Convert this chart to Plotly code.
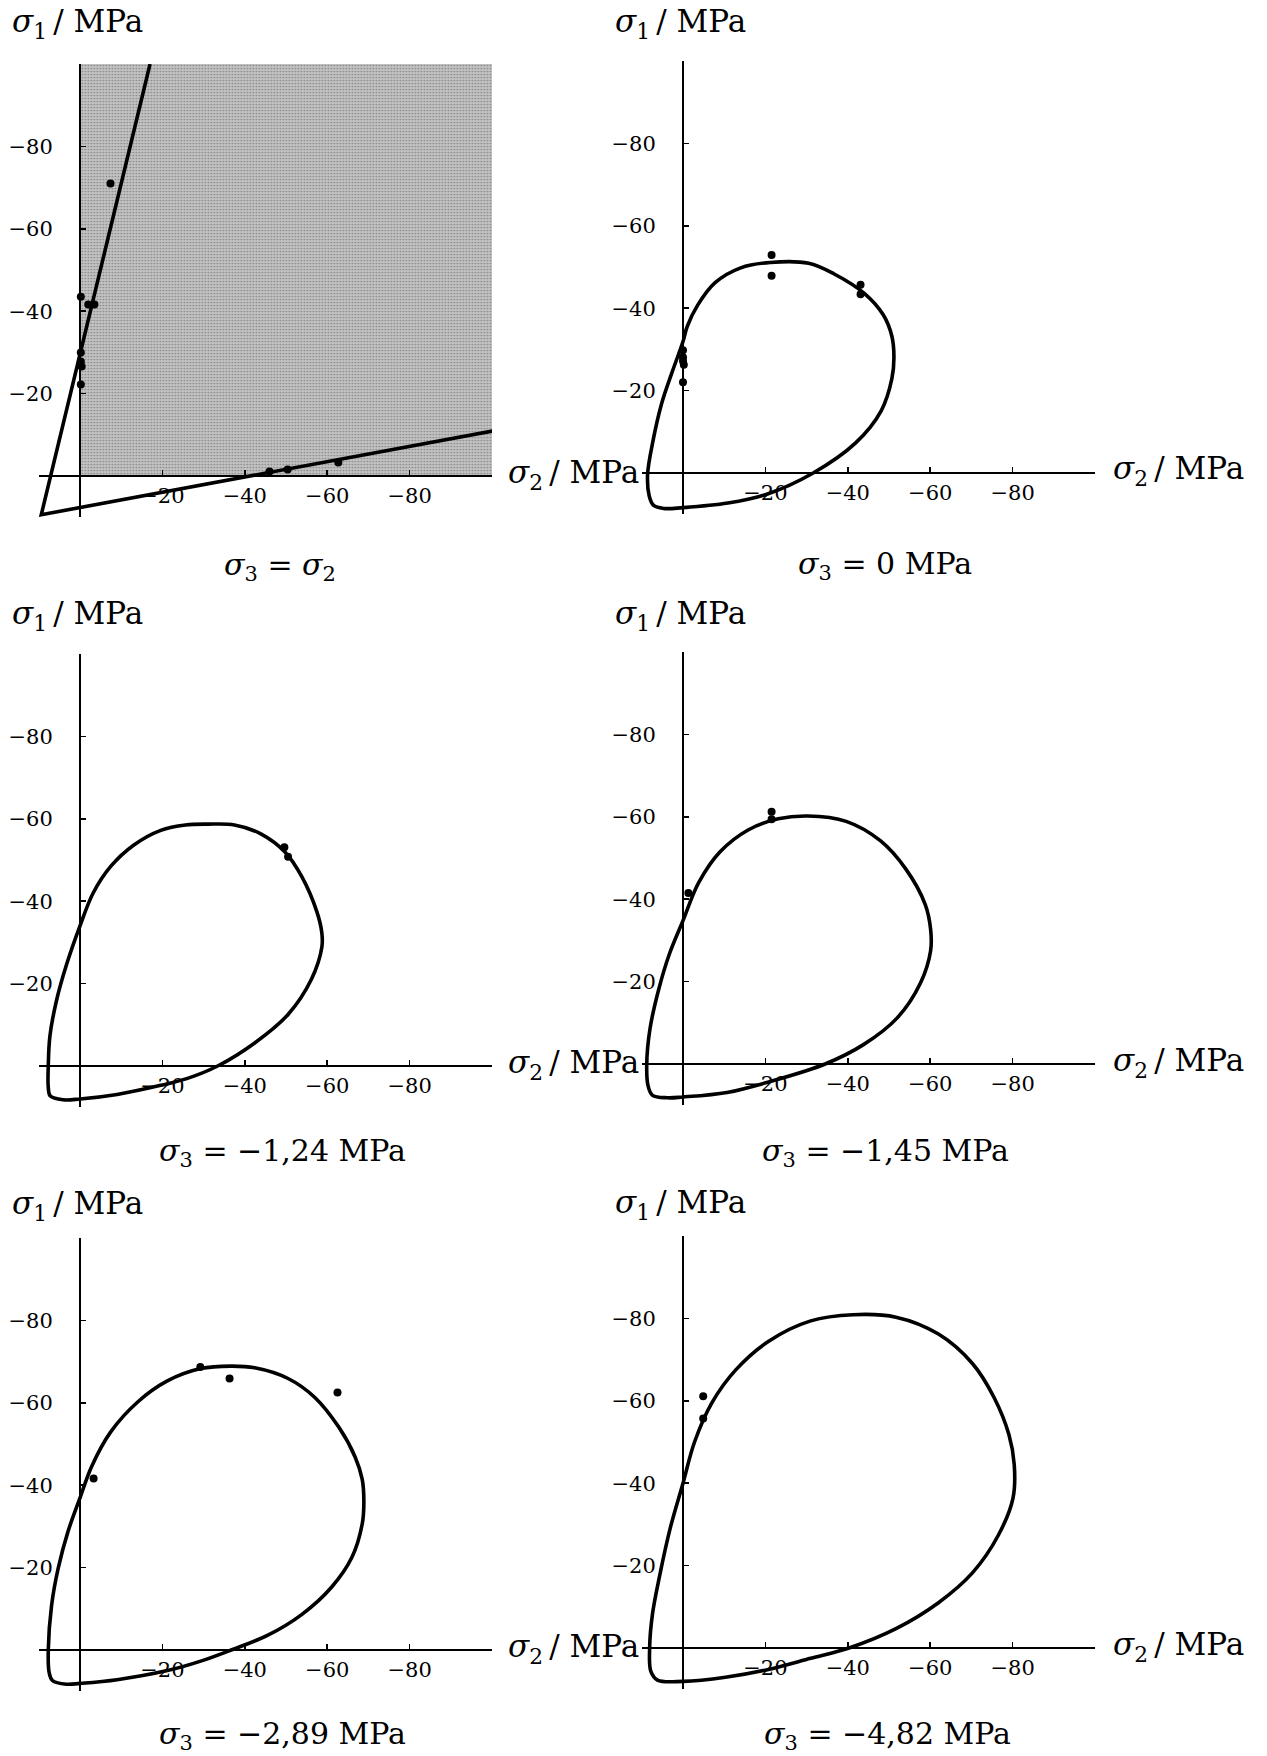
import plotly.graph_objects as go

W, H = 1267, 1756

# ---------------- data ----------------
tick_values = [-20, -40, -60, -80]
tick_labels = ["−20", "−40", "−60", "−80"]

subtitles = ["<i>σ</i><sub>3</sub> = <i>σ</i><sub>2</sub>",
             "<i>σ</i><sub>3</sub> = 0 MPa",
             "<i>σ</i><sub>3</sub> = −1,24 MPa",
             "<i>σ</i><sub>3</sub> = −1,45 MPa",
             "<i>σ</i><sub>3</sub> = −2,89 MPa",
             "<i>σ</i><sub>3</sub> = −4,82 MPa"]

# panel 1 : sigma3 = sigma2  (two straight failure lines meeting at a vertex)
p1_lines_s2 = [-17.0, 9.4, -100.5]
p1_lines_s1 = [-100.0, 9.4, -11.0]
p1_region_s2 = [0, -100, -100, 0, 0]
p1_region_s1 = [0, 0, -100, -100, 0]
p1_pts_s2 = [-7.4, -0.2, -2.0, -3.5, -0.2, -0.2, -0.4, -0.2, -46.0, -50.4, -62.7]
p1_pts_s1 = [-71.0, -43.5, -41.6, -41.6, -30.0, -27.8, -26.6, -22.2, -1.1, -1.6, -3.3]

# panel 2 : sigma3 = 0
p2_loop_s2 = [8.6, 8.2, 7.2, 4.7, 0, -10.9, -20.2, -31.6, -41.9, -48.1, -50.7, -51.2, -50.7,
              -48.6, -44.0, -36.7, -30.5, -21.2, -14.0, -7.8, -3.6, -1.0, 0, 2.6, 5.2, 7.2, 8.6]
p2_loop_s1 = [0.4, 5.6, 7.8, 8.6, 8.4, 7.3, 5.2, 0, -7.3, -15.1, -22.9, -28.1, -33.2,
              -38.4, -43.6, -48.3, -50.9, -51.1, -49.8, -46.2, -40.8, -35.5, -31.9, -24.6, -16.8, -8.2, 0.4]
p2_pts_s2 = [0, 0, 0, -0.2, 0, -21.5, -21.5, -43.1, -43.1]
p2_pts_s1 = [-29.8, -28.1, -27.2, -26.3, -22.0, -52.9, -47.9, -45.7, -43.4]

# panel 3 : sigma3 = -1.24
p3_loop_s2 = [7.7, 7.7, 7.2, 4.1, 0, -9.0, -19.6, -26.1, -33.4, -42.4, -50.5, -56.2, -58.7, -58.7,
              -57.5, -53.8, -49.7, -44.0, -37.5, -31.0, -25.6, -19.6, -13.0, -7.5, -3.2, 0, 3.3,
              5.7, 7.3, 7.7]
p3_loop_s1 = [0, 5.2, 7.3, 8.2, 8.0, 6.9, 4.7, 3.0, 0, -5.6, -12.5, -21.1, -28.8, -32.3,
              -37.4, -46.0, -52.0, -56.3, -58.5, -58.7, -58.5, -57.2, -53.6, -48.5, -42.0, -34.0,
              -24.5, -15.9, -7.3, 0]
p3_pts_s2 = [-49.6, -50.5]
p3_pts_s1 = [-53.1, -50.8]

# panel 4 : sigma3 = -1.45
p4_loop_s2 = [8.8, 8.5, 7.4, 3.8, 0, -10.7, -21.0, -34.5, -43.8, -52.0, -57.7, -60.1, -60.1,
              -58.8, -54.1, -47.9, -39.6, -30.3, -23.1, -15.8, -9.0, -3.8, 0, 3.3, 5.9, 8.0, 8.8]
p4_loop_s1 = [0, 5.2, 7.6, 8.2, 8.0, 6.9, 4.3, 0, -4.7, -11.2, -19.8, -27.5, -32.7,
              -38.7, -47.3, -54.2, -58.9, -60.2, -59.5, -56.8, -51.5, -44.0, -34.8, -26.7, -18.1,
              -8.6, 0]
p4_pts_s2 = [-21.5, -21.5, -1.3]
p4_pts_s1 = [-61.2, -59.4, -41.5]

# panel 5 : sigma3 = -2.89
p5_loop_s2 = [7.7, 7.5, 6.7, 3.3, 0, -9.0, -21.2, -29.3, -36.7, -45.6, -53.8, -61.1, -66.0,
              -68.5, -68.9, -68.5, -66.8, -62.8, -57.0, -50.5, -42.4, -36.7, -29.3, -21.2, -14.0,
              -7.5, -2.8, 0, 2.9, 5.3, 6.9, 7.7]
p5_loop_s1 = [0, 5.4, 7.4, 8.3, 8.1, 7.2, 5.0, 2.7, 0, -3.6, -8.6, -15.3, -22.5,
              -30.6, -36.0, -41.4, -46.8, -54.1, -61.3, -65.9, -68.5, -68.9, -68.3, -65.3, -60.2,
              -53.0, -44.5, -36.9, -28.8, -19.8, -10.8, 0]
p5_pts_s2 = [-29.2, -36.3, -62.5, -3.3]
p5_pts_s1 = [-68.7, -65.9, -62.5, -41.6]

# panel 6 : sigma3 = -4.82
p6_loop_s2 = [8.1, 7.8, 6.2, 0, -10.3, -20.7, -31.0, -40.3, -51.7, -62.0, -70.3, -76.5, -80.1,
              -80.4, -79.1, -75.5, -70.3, -62.0, -51.7, -41.3, -31.0, -20.7, -12.8, -7.0, -2.8,
              0, 3.1, 5.7, 7.4, 8.1]
p6_loop_s1 = [0, 5.7, 7.8, 8.1, 7.1, 5.2, 2.5, 0, -4.7, -11.0, -18.3, -27.3, -36.4,
              -44.5, -51.8, -60.8, -69.0, -76.2, -80.3, -80.9, -79.4, -74.4, -67.5, -59.5, -50.0,
              -40.0, -29.1, -17.4, -8.3, 0]
p6_pts_s2 = [-4.9, -4.9]
p6_pts_s1 = [-61.1, -55.7]

loops = [None,
         (p2_loop_s2, p2_loop_s1),
         (p3_loop_s2, p3_loop_s1),
         (p4_loop_s2, p4_loop_s1),
         (p5_loop_s2, p5_loop_s1),
         (p6_loop_s2, p6_loop_s1)]
points = [(p1_pts_s2, p1_pts_s1), (p2_pts_s2, p2_pts_s1), (p3_pts_s2, p3_pts_s1),
          (p4_pts_s2, p4_pts_s1), (p5_pts_s2, p5_pts_s1), (p6_pts_s2, p6_pts_s1)]

# ---------------- layout (pixels) ----------------
origins = [(80, 476), (683, 473), (80, 1066), (683, 1064), (80, 1650), (683, 1648)]
sub_y = [567, 565, 1152, 1152, 1735, 1735]
sub_x = [280, 885, 282, 885, 282, 887]
s1_label_y = [24, 23, 615, 615, 1205, 1204]
s1_label_x = [10, 613, 10, 613, 10, 613]
s2_label_x = [506, 1111, 506, 1111, 506, 1111]

SCALE = 4.12
FONT = "DejaVu Serif"

fig = go.Figure()
layout = dict(width=W, height=H, margin=dict(l=0, r=0, t=0, b=0),
              paper_bgcolor="white", plot_bgcolor="rgba(0,0,0,0)",
              showlegend=False, font=dict(family=FONT, color="black"))
annotations = []

for i, (ox, oy) in enumerate(origins):
    k = "" if i == 0 else str(i + 1)
    xd = [(ox - 10 * SCALE) / W, (ox + 100 * SCALE) / W]
    yd = [1 - (oy + 10 * SCALE) / H, 1 - (oy - 100 * SCALE) / H]
    common = dict(range=[10, -100], anchor="free",
                  showline=True, linecolor="black", linewidth=2.2,
                  ticks="inside", ticklen=5, tickwidth=1.5, tickcolor="black",
                  tickvals=tick_values, ticktext=tick_labels,
                  tickfont=dict(family=FONT, size=21, color="black"),
                  showgrid=False, zeroline=False, fixedrange=True)
    layout["xaxis" + k] = dict(domain=xd, position=1 - oy / H, ticklabelstandoff=1, **common)
    layout["yaxis" + k] = dict(domain=yd, position=ox / W, ticklabelstandoff=22, **common)
    xa, ya = "x" + k, "y" + k

    if i == 0:
        fig.add_trace(go.Scatter(x=p1_region_s2, y=p1_region_s1, xaxis=xa, yaxis=ya,
                                 mode="none", fill="toself", fillcolor="#b8b8b8",
                                 fillpattern=dict(shape=".", bgcolor="#c2c2c2", fgcolor="#4a4a4a",
                                                  size=3, solidity=0.25),
                                 hoverinfo="skip"))
        fig.add_trace(go.Scatter(x=p1_lines_s2, y=p1_lines_s1, xaxis=xa, yaxis=ya,
                                 mode="lines", line=dict(color="black", width=3.6)))
    else:
        s2, s1 = loops[i]
        fig.add_trace(go.Scatter(x=s2, y=s1, xaxis=xa, yaxis=ya, mode="lines",
                                 line=dict(color="black", width=3.6, shape="spline", smoothing=1.0)))
    px, py = points[i]
    fig.add_trace(go.Scatter(x=px, y=py, xaxis=xa, yaxis=ya, mode="markers",
                             marker=dict(color="black", size=8)))

    annotations.append(dict(text="<i>σ</i><sub>1</sub>\u2009/ MPa", xref="paper", yref="paper",
                            x=s1_label_x[i] / W, y=1 - s1_label_y[i] / H,
                            xanchor="left", yanchor="middle", showarrow=False,
                            font=dict(family=FONT, size=31, color="black")))
    annotations.append(dict(text="<i>σ</i><sub>2</sub>\u2009/ MPa", xref="paper", yref="paper",
                            x=s2_label_x[i] / W, y=1 - (oy - 2) / H,
                            xanchor="left", yanchor="middle", showarrow=False,
                            bgcolor="white",
                            font=dict(family=FONT, size=31, color="black")))
    annotations.append(dict(text=subtitles[i], xref="paper", yref="paper",
                            x=sub_x[i] / W, y=1 - sub_y[i] / H,
                            xanchor="center", yanchor="middle", showarrow=False,
                            font=dict(family=FONT, size=30, color="black")))

layout["annotations"] = annotations
fig.update_layout(**layout)
fig.write_html("out.html", config={"displayModeBar": False, "staticPlot": True},
               post_script="document.body.style.margin='0px';document.body.style.overflow='hidden';")
